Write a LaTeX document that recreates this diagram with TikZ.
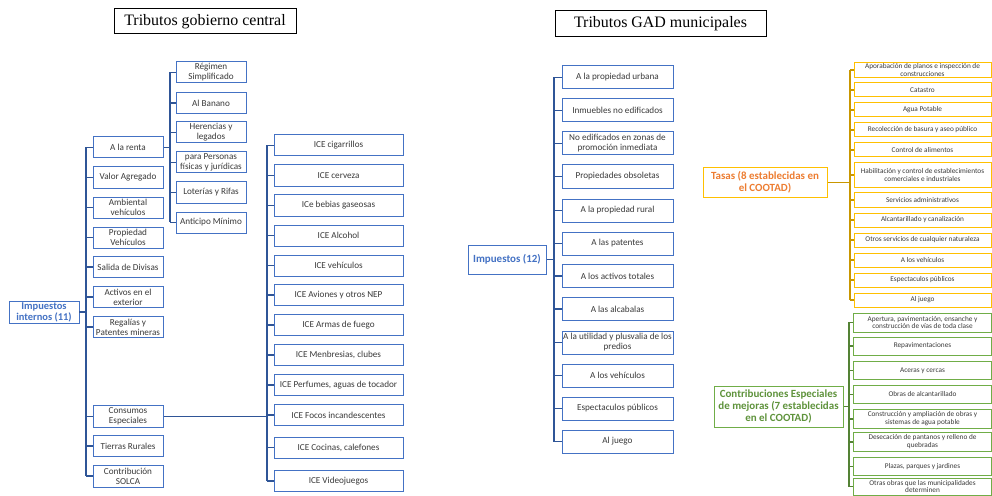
\documentclass[tikz,border=0pt]{standalone}
\usepackage{fontspec}
\setmainfont{Carlito}
\newfontfamily\titlefont{Liberation Serif}
\usepackage{xcolor}
\definecolor{OfficeBlue}{HTML}{4472C4}
\definecolor{DarkBlue}{HTML}{2F5597}
\definecolor{TasaGold}{HTML}{FFC000}
\definecolor{TasaLine}{HTML}{C99700}
\definecolor{TasaText}{HTML}{ED7D31}
\definecolor{MejoraGreen}{HTML}{70AD47}
\definecolor{MejoraLine}{HTML}{548235}
\definecolor{BoxText}{HTML}{3A3A3A}
\usetikzlibrary{positioning}
\tikzset{
  % Box styles
  titlebox/.style={rectangle, draw=black, line width=1pt, inner sep=1pt, font=\titlefont\fontsize{16}{18}\selectfont},
  itembox/.style={rectangle, draw=OfficeBlue, line width=1pt, fill=white, text=BoxText, inner sep=1pt, align=center, font=\fontsize{9.2}{10}\selectfont},
  smallbox/.style={itembox, font=\fontsize{7.3}{8}\selectfont},
  rootbox/.style={rectangle, draw=OfficeBlue, line width=1pt, fill=white, text=OfficeBlue, inner sep=1pt, align=center, font=\bfseries\fontsize{11}{12}\selectfont},
  % Line styles
  blueline/.style={draw=DarkBlue, line width=1.4pt},
  goldline/.style={draw=TasaLine, line width=1.4pt},
  greenline/.style={draw=MejoraLine, line width=1.4pt}
}

\begin{document}
\begin{tikzpicture}[x=1bp, y=-1bp]
  \useasboundingbox (0,0) rectangle (992,496);

  % Titles
  \node[titlebox, minimum width=182bp, minimum height=25bp] (central) at (205,21.5) {Tributos gobierno central};
  \node[titlebox, minimum width=211bp, minimum height=26bp] (gad) at (660.5,24) {Tributos GAD municipales};

  % Impuestos internos
  \node[rootbox, minimum width=70bp, minimum height=22bp, font=\bfseries\fontsize{10.5}{11}\selectfont] (internos) at (44,312) {Impuestos\\internos (11)};
  \coordinate (t1) at (86,0);
  \node[itembox, minimum width=70bp, minimum height=21bp] (renta) at (128,147.5) {A la renta};
  \node[itembox, minimum width=70bp, minimum height=21bp] (iva) at (128,177.5) {Valor Agregado};
  \node[itembox, minimum width=70bp, minimum height=21bp] (ambiental) at (128,207.5) {Ambiental\\vehículos};
  \node[itembox, minimum width=70bp, minimum height=21bp] (propveh) at (128,237.5) {Propiedad\\Vehículos};
  \node[itembox, minimum width=70bp, minimum height=21bp] (divisas) at (128,267) {Salida de Divisas};
  \node[itembox, minimum width=70bp, minimum height=21bp] (activos) at (128,297) {Activos en el\\exterior};
  \node[itembox, minimum width=70bp, minimum height=21bp] (regalias) at (128,327) {Regalías y\\Patentes mineras};
  \node[itembox, minimum width=70bp, minimum height=22bp] (consumos) at (128,416.5) {Consumos\\Especiales};
  \node[itembox, minimum width=70bp, minimum height=21bp] (tierras) at (128,446) {Tierras Rurales};
  \node[itembox, minimum width=70bp, minimum height=22bp] (solca) at (128,476) {Contribución\\SOLCA};
  \draw[blueline] (t1 |- renta.west) -- (t1 |- solca.west)
    (internos.east) -- (t1 |- internos.east)
    (t1 |- renta.west) -- (renta.west) (t1 |- iva.west) -- (iva.west)
    (t1 |- ambiental.west) -- (ambiental.west) (t1 |- propveh.west) -- (propveh.west)
    (t1 |- divisas.west) -- (divisas.west) (t1 |- activos.west) -- (activos.west)
    (t1 |- regalias.west) -- (regalias.west) (t1 |- consumos.west) -- (consumos.west)
    (t1 |- tierras.west) -- (tierras.west) (t1 |- solca.west) -- (solca.west);

  % A la renta
  \coordinate (t2) at (170,0);
  \node[itembox, minimum width=70bp, minimum height=21bp] (simplificado) at (211,72.5) {Régimen\\Simplificado};
  \node[itembox, minimum width=70bp, minimum height=21bp] (banano) at (211,103) {Al Banano};
  \node[itembox, minimum width=70bp, minimum height=21bp] (herencias) at (211,132.5) {Herencias y\\legados};
  \node[itembox, minimum width=70bp, minimum height=21bp] (personas) at (211,162.5) {para Personas\\físicas y jurídicas};
  \node[itembox, minimum width=70bp, minimum height=21bp] (loterias) at (211,192.5) {Loterías y Rifas};
  \node[itembox, minimum width=70bp, minimum height=21bp] (anticipo) at (211,222.5) {Anticipo Mínimo};
  \draw[blueline] (t2 |- simplificado.west) -- (t2 |- anticipo.west)
    (renta.east) -- (t2 |- renta.east)
    (t2 |- simplificado.west) -- (simplificado.west) (t2 |- banano.west) -- (banano.west)
    (t2 |- herencias.west) -- (herencias.west) (t2 |- personas.west) -- (personas.west)
    (t2 |- loterias.west) -- (loterias.west) (t2 |- anticipo.west) -- (anticipo.west);

  % Consumos especiales
  \coordinate (t3) at (267,0);
  \node[itembox, minimum width=129bp, minimum height=21bp] (cigarrillos) at (338.5,145.5) {ICE cigarrillos};
  \node[itembox, minimum width=129bp, minimum height=21bp] (cerveza) at (338.5,175.5) {ICE cerveza};
  \node[itembox, minimum width=129bp, minimum height=21bp] (gaseosas) at (338.5,205.5) {ICe bebias gaseosas};
  \node[itembox, minimum width=129bp, minimum height=21bp] (alcohol) at (338.5,235.5) {ICE Alcohol};
  \node[itembox, minimum width=129bp, minimum height=21bp] (icevehiculos) at (338.5,265.5) {ICE vehículos};
  \node[itembox, minimum width=129bp, minimum height=21bp] (aviones) at (338.5,295) {ICE Aviones y otros NEP};
  \node[itembox, minimum width=129bp, minimum height=21bp] (armas) at (338.5,325) {ICE Armas de fuego};
  \node[itembox, minimum width=129bp, minimum height=21bp] (clubes) at (338.5,355) {ICE Menbresias, clubes};
  \node[itembox, minimum width=129bp, minimum height=21bp] (perfumes) at (338.5,385) {ICE Perfumes, aguas de tocador};
  \node[itembox, minimum width=129bp, minimum height=21bp] (focos) at (338.5,415) {ICE Focos incandescentes};
  \node[itembox, minimum width=129bp, minimum height=21bp] (cocinas) at (338.5,447.5) {ICE Cocinas, calefones};
  \node[itembox, minimum width=129bp, minimum height=21bp] (videojuegos) at (338.5,481) {ICE Videojuegos};
  \draw[blueline] (t3 |- cigarrillos.west) -- (t3 |- videojuegos.west)
    (consumos.east) -- (t3 |- consumos.east)
    (t3 |- cigarrillos.west) -- (cigarrillos.west) (t3 |- cerveza.west) -- (cerveza.west)
    (t3 |- gaseosas.west) -- (gaseosas.west) (t3 |- alcohol.west) -- (alcohol.west)
    (t3 |- icevehiculos.west) -- (icevehiculos.west) (t3 |- aviones.west) -- (aviones.west)
    (t3 |- armas.west) -- (armas.west) (t3 |- clubes.west) -- (clubes.west)
    (t3 |- perfumes.west) -- (perfumes.west) (t3 |- focos.west) -- (focos.west)
    (t3 |- cocinas.west) -- (cocinas.west) (t3 |- videojuegos.west) -- (videojuegos.west);

  % Impuestos municipales
  \node[rootbox, minimum width=78bp, minimum height=29bp] (impuestos) at (507,259.5) {Impuestos (12)};
  \coordinate (t4) at (554,0);
  \node[itembox, minimum width=111bp, minimum height=23bp] (urbana) at (617.5,77.5) {A la propiedad urbana};
  \node[itembox, minimum width=111bp, minimum height=23bp] (inmuebles) at (617.5,110.5) {Inmuebles no edificados};
  \node[itembox, minimum width=111bp, minimum height=23bp] (promocion) at (617.5,143.5) {No edificados en zonas de\\promoción inmediata};
  \node[itembox, minimum width=111bp, minimum height=23bp] (obsoletas) at (617.5,176.5) {Propiedades obsoletas};
  \node[itembox, minimum width=111bp, minimum height=23bp] (rural) at (617.5,210.5) {A la propiedad rural};
  \node[itembox, minimum width=111bp, minimum height=23bp] (patentes) at (617.5,243.5) {A las patentes};
  \node[itembox, minimum width=111bp, minimum height=23bp] (totales) at (617.5,276) {A los activos totales};
  \node[itembox, minimum width=111bp, minimum height=23bp] (alcabalas) at (617.5,309) {A las alcabalas};
  \node[itembox, minimum width=111bp, minimum height=23bp] (plusvalia) at (617.5,342.5) {A la utilidad y plusvalia de los\\predios};
  \node[itembox, minimum width=111bp, minimum height=23bp] (vehiculos) at (617.5,375.5) {A los vehículos};
  \node[itembox, minimum width=111bp, minimum height=23bp] (espectaculos) at (617.5,408.5) {Espectaculos públicos};
  \node[itembox, minimum width=111bp, minimum height=23bp] (juego) at (617.5,441.5) {Al juego};
  \draw[blueline] (t4 |- urbana.west) -- (t4 |- juego.west)
    (impuestos.east) -- (t4 |- impuestos.east)
    (t4 |- urbana.west) -- (urbana.west) (t4 |- inmuebles.west) -- (inmuebles.west)
    (t4 |- promocion.west) -- (promocion.west) (t4 |- obsoletas.west) -- (obsoletas.west)
    (t4 |- rural.west) -- (rural.west) (t4 |- patentes.west) -- (patentes.west)
    (t4 |- totales.west) -- (totales.west) (t4 |- alcabalas.west) -- (alcabalas.west)
    (t4 |- plusvalia.west) -- (plusvalia.west) (t4 |- vehiculos.west) -- (vehiculos.west)
    (t4 |- espectaculos.west) -- (espectaculos.west) (t4 |- juego.west) -- (juego.west);

  % Tasas
  \node[rootbox, draw=TasaGold, text=TasaText, minimum width=124bp, minimum height=29bp] (tasas) at (765,182.5) {Tasas (8 establecidas en\\el COOTAD)};
  \coordinate (t5) at (850,0);
  \node[smallbox, draw=TasaGold, minimum width=137bp, minimum height=14bp] (planos) at (922.5,70) {Aporabación de planos e inspección de\\construcciones};
  \node[smallbox, draw=TasaGold, minimum width=137bp, minimum height=14bp] (catastro) at (922.5,90) {Catastro};
  \node[smallbox, draw=TasaGold, minimum width=137bp, minimum height=14bp] (agua) at (922.5,110) {Agua Potable};
  \node[smallbox, draw=TasaGold, minimum width=137bp, minimum height=14bp] (basura) at (922.5,130) {Recolección de basura y aseo público};
  \node[smallbox, draw=TasaGold, minimum width=137bp, minimum height=14bp] (alimentos) at (922.5,150) {Control de alimentos};
  \node[smallbox, draw=TasaGold, minimum width=137bp, minimum height=24bp] (habilitacion) at (922.5,175) {Habilitación y control de establecimientos\\comerciales e industriales};
  \node[smallbox, draw=TasaGold, minimum width=137bp, minimum height=14bp] (administrativos) at (922.5,200) {Servicios administrativos};
  \node[smallbox, draw=TasaGold, minimum width=137bp, minimum height=14bp] (canalizacion) at (922.5,220) {Alcantarillado y canalización};
  \node[smallbox, draw=TasaGold, minimum width=137bp, minimum height=14bp] (otros) at (922.5,240) {Otros servicios de cualquier naturaleza};
  \node[smallbox, draw=TasaGold, minimum width=137bp, minimum height=14bp] (tvehiculos) at (922.5,260) {A los vehículos};
  \node[smallbox, draw=TasaGold, minimum width=137bp, minimum height=14bp] (tespectaculos) at (922.5,280) {Espectaculos públicos};
  \node[smallbox, draw=TasaGold, minimum width=137bp, minimum height=14bp] (tjuego) at (922.5,300) {Al juego};
  \draw[goldline] (t5 |- planos.west) -- (t5 |- tjuego.west)
    (tasas.east) -- (t5 |- tasas.east)
    (t5 |- planos.west) -- (planos.west) (t5 |- catastro.west) -- (catastro.west)
    (t5 |- agua.west) -- (agua.west) (t5 |- basura.west) -- (basura.west)
    (t5 |- alimentos.west) -- (alimentos.west) (t5 |- habilitacion.west) -- (habilitacion.west)
    (t5 |- administrativos.west) -- (administrativos.west) (t5 |- canalizacion.west) -- (canalizacion.west)
    (t5 |- otros.west) -- (otros.west) (t5 |- tvehiculos.west) -- (tvehiculos.west)
    (t5 |- tespectaculos.west) -- (tespectaculos.west) (t5 |- tjuego.west) -- (tjuego.west);

  % Contribuciones especiales de mejoras
  \node[rootbox, draw=MejoraGreen, text=MejoraGreen!85!black, minimum width=129bp, minimum height=41bp] (mejoras) at (778.5,406.5) {Contribuciones Especiales\\de mejoras (7 establecidas\\en el COOTAD)};
  \coordinate (t6) at (849,0);
  \node[smallbox, draw=MejoraGreen, minimum width=138bp, minimum height=19bp] (vias) at (922.5,322.5) {Apertura, pavimentación, ensanche y\\construcción de vías de toda clase};
  \node[smallbox, draw=MejoraGreen, minimum width=138bp, minimum height=18bp] (repav) at (922.5,346) {Repavimentaciones};
  \node[smallbox, draw=MejoraGreen, minimum width=138bp, minimum height=18bp] (aceras) at (922.5,370.5) {Aceras y cercas};
  \node[smallbox, draw=MejoraGreen, minimum width=138bp, minimum height=18bp] (obras) at (922.5,394.5) {Obras de alcantarillado};
  \node[smallbox, draw=MejoraGreen, minimum width=138bp, minimum height=19bp] (sistemas) at (922.5,419) {Construcción y ampliación de obras y\\sistemas de agua potable};
  \node[smallbox, draw=MejoraGreen, minimum width=138bp, minimum height=19bp] (pantanos) at (922.5,442) {Desecación de pantanos y relleno de\\quebradas};
  \node[smallbox, draw=MejoraGreen, minimum width=138bp, minimum height=18bp] (plazas) at (922.5,466.5) {Plazas, parques y jardines};
  \node[smallbox, draw=MejoraGreen, minimum width=138bp, minimum height=17bp] (otrasobras) at (922.5,486.5) {Otras obras que las municipalidades\\determinen};
  \draw[greenline] (t6 |- vias.west) -- (t6 |- otrasobras.west)
    (mejoras.east) -- (t6 |- mejoras.east)
    (t6 |- vias.west) -- (vias.west) (t6 |- repav.west) -- (repav.west)
    (t6 |- aceras.west) -- (aceras.west) (t6 |- obras.west) -- (obras.west)
    (t6 |- sistemas.west) -- (sistemas.west) (t6 |- pantanos.west) -- (pantanos.west)
    (t6 |- plazas.west) -- (plazas.west) (t6 |- otrasobras.west) -- (otrasobras.west);
\end{tikzpicture}
\end{document}
